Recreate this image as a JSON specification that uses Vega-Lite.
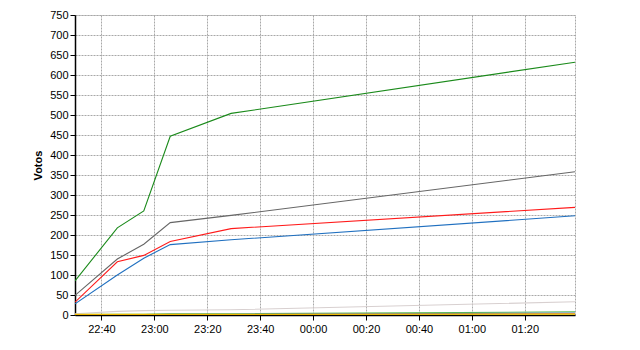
{
  "$schema": "https://vega.github.io/schema/vega-lite/v6.json",
  "autosize": "none",
  "width": 500,
  "height": 300,
  "padding": {"left": 75, "top": 15, "right": 65, "bottom": 35},
  "background": "white",
  "config": {
    "view": {"stroke": "#a8a8a8", "strokeDash": [2, 1], "strokeWidth": 1},
    "font": "Liberation Sans"
  },
  "data": {
    "values": [
      {"t": "2011-05-22T22:30", "s": "S1", "v": 85},
      {"t": "2011-05-22T22:46", "s": "S1", "v": 218},
      {"t": "2011-05-22T22:56", "s": "S1", "v": 260},
      {"t": "2011-05-22T23:06", "s": "S1", "v": 447},
      {"t": "2011-05-22T23:29", "s": "S1", "v": 504},
      {"t": "2011-05-23T01:39", "s": "S1", "v": 632},
      {"t": "2011-05-22T22:30", "s": "S2", "v": 49},
      {"t": "2011-05-22T22:46", "s": "S2", "v": 140},
      {"t": "2011-05-22T22:56", "s": "S2", "v": 177},
      {"t": "2011-05-22T23:06", "s": "S2", "v": 231},
      {"t": "2011-05-22T23:29", "s": "S2", "v": 249},
      {"t": "2011-05-23T01:39", "s": "S2", "v": 358},
      {"t": "2011-05-22T22:30", "s": "S3", "v": 32},
      {"t": "2011-05-22T22:46", "s": "S3", "v": 133},
      {"t": "2011-05-22T22:56", "s": "S3", "v": 149},
      {"t": "2011-05-22T23:06", "s": "S3", "v": 184},
      {"t": "2011-05-22T23:29", "s": "S3", "v": 216},
      {"t": "2011-05-23T01:39", "s": "S3", "v": 269},
      {"t": "2011-05-22T22:30", "s": "S4", "v": 28},
      {"t": "2011-05-22T22:46", "s": "S4", "v": 100},
      {"t": "2011-05-22T22:56", "s": "S4", "v": 142},
      {"t": "2011-05-22T23:06", "s": "S4", "v": 176},
      {"t": "2011-05-22T23:29", "s": "S4", "v": 188},
      {"t": "2011-05-23T01:39", "s": "S4", "v": 248},
      {"t": "2011-05-22T22:30", "s": "S5", "v": 3},
      {"t": "2011-05-22T22:46", "s": "S5", "v": 9},
      {"t": "2011-05-22T22:56", "s": "S5", "v": 11},
      {"t": "2011-05-22T23:06", "s": "S5", "v": 12},
      {"t": "2011-05-22T23:29", "s": "S5", "v": 13},
      {"t": "2011-05-23T01:39", "s": "S5", "v": 33},
      {"t": "2011-05-22T22:30", "s": "S6", "v": 1},
      {"t": "2011-05-22T22:46", "s": "S6", "v": 2},
      {"t": "2011-05-22T22:56", "s": "S6", "v": 2},
      {"t": "2011-05-22T23:06", "s": "S6", "v": 3},
      {"t": "2011-05-22T23:29", "s": "S6", "v": 3},
      {"t": "2011-05-23T01:39", "s": "S6", "v": 8},
      {"t": "2011-05-22T22:30", "s": "S7", "v": 0},
      {"t": "2011-05-22T22:46", "s": "S7", "v": 1},
      {"t": "2011-05-22T22:56", "s": "S7", "v": 1},
      {"t": "2011-05-22T23:06", "s": "S7", "v": 2},
      {"t": "2011-05-22T23:29", "s": "S7", "v": 2},
      {"t": "2011-05-23T01:39", "s": "S7", "v": 5},
      {"t": "2011-05-22T22:30", "s": "S8", "v": 1},
      {"t": "2011-05-22T22:46", "s": "S8", "v": 1},
      {"t": "2011-05-22T22:56", "s": "S8", "v": 1},
      {"t": "2011-05-22T23:06", "s": "S8", "v": 1},
      {"t": "2011-05-22T23:29", "s": "S8", "v": 1},
      {"t": "2011-05-23T01:39", "s": "S8", "v": 3},
      {"t": "2011-05-22T22:30", "s": "S9", "v": 2},
      {"t": "2011-05-22T22:46", "s": "S9", "v": 2},
      {"t": "2011-05-22T22:56", "s": "S9", "v": 2},
      {"t": "2011-05-22T23:06", "s": "S9", "v": 2},
      {"t": "2011-05-22T23:29", "s": "S9", "v": 2},
      {"t": "2011-05-23T01:39", "s": "S9", "v": 2}
    ]
  },
  "mark": {"type": "line", "strokeWidth": 1.1, "clip": true},
  "encoding": {
    "x": {
      "field": "t",
      "type": "temporal",
      "scale": {
        "domain": [
          {"year": 2011, "month": 5, "date": 22, "hours": 22, "minutes": 30},
          {"year": 2011, "month": 5, "date": 23, "hours": 1, "minutes": 39}
        ],
        "nice": false
      },
      "axis": {
        "title": null,
        "format": "%H:%M",
        "values": [
          {"year": 2011, "month": 5, "date": 22, "hours": 22, "minutes": 40},
          {"year": 2011, "month": 5, "date": 22, "hours": 23, "minutes": 0},
          {"year": 2011, "month": 5, "date": 22, "hours": 23, "minutes": 20},
          {"year": 2011, "month": 5, "date": 22, "hours": 23, "minutes": 40},
          {"year": 2011, "month": 5, "date": 23, "hours": 0, "minutes": 0},
          {"year": 2011, "month": 5, "date": 23, "hours": 0, "minutes": 20},
          {"year": 2011, "month": 5, "date": 23, "hours": 0, "minutes": 40},
          {"year": 2011, "month": 5, "date": 23, "hours": 1, "minutes": 0},
          {"year": 2011, "month": 5, "date": 23, "hours": 1, "minutes": 20}
        ],
        "labelFont": "Liberation Sans",
        "labelFontSize": 11,
        "labelColor": "black",
        "labelPadding": 3,
        "domainColor": "black",
        "domainWidth": 1.5,
        "tickColor": "black",
        "tickSize": 5,
        "gridColor": "#a8a8a8",
        "gridDash": [2, 1],
        "gridOpacity": 1,
        "labelFlush": false
      }
    },
    "y": {
      "field": "v",
      "type": "quantitative",
      "scale": {"domain": [0, 750], "nice": false},
      "axis": {
        "title": "Votos",
        "titleFont": "Liberation Sans",
        "titleFontSize": 11,
        "titleFontWeight": "bold",
        "titleColor": "black",
        "titlePadding": 6,
        "values": [0, 50, 100, 150, 200, 250, 300, 350, 400, 450, 500, 550, 600, 650, 700, 750],
        "labelFont": "Liberation Sans",
        "labelFontSize": 11,
        "labelColor": "black",
        "labelPadding": 2,
        "domainColor": "black",
        "domainWidth": 1.5,
        "tickColor": "black",
        "tickSize": 5,
        "gridColor": "#a8a8a8",
        "gridDash": [2, 1],
        "gridOpacity": 1,
        "labelFlush": false
      }
    },
    "color": {
      "field": "s",
      "type": "nominal",
      "legend": null,
      "scale": {
        "domain": ["S1", "S2", "S3", "S4", "S5", "S6", "S7", "S8", "S9"],
        "range": ["#1a8a1a", "#666666", "#ff1a1a", "#2070c0", "#d8d0d0", "#55bb55", "#5080c0", "#ff8000", "#e8c800"]
      }
    }
  }
}
